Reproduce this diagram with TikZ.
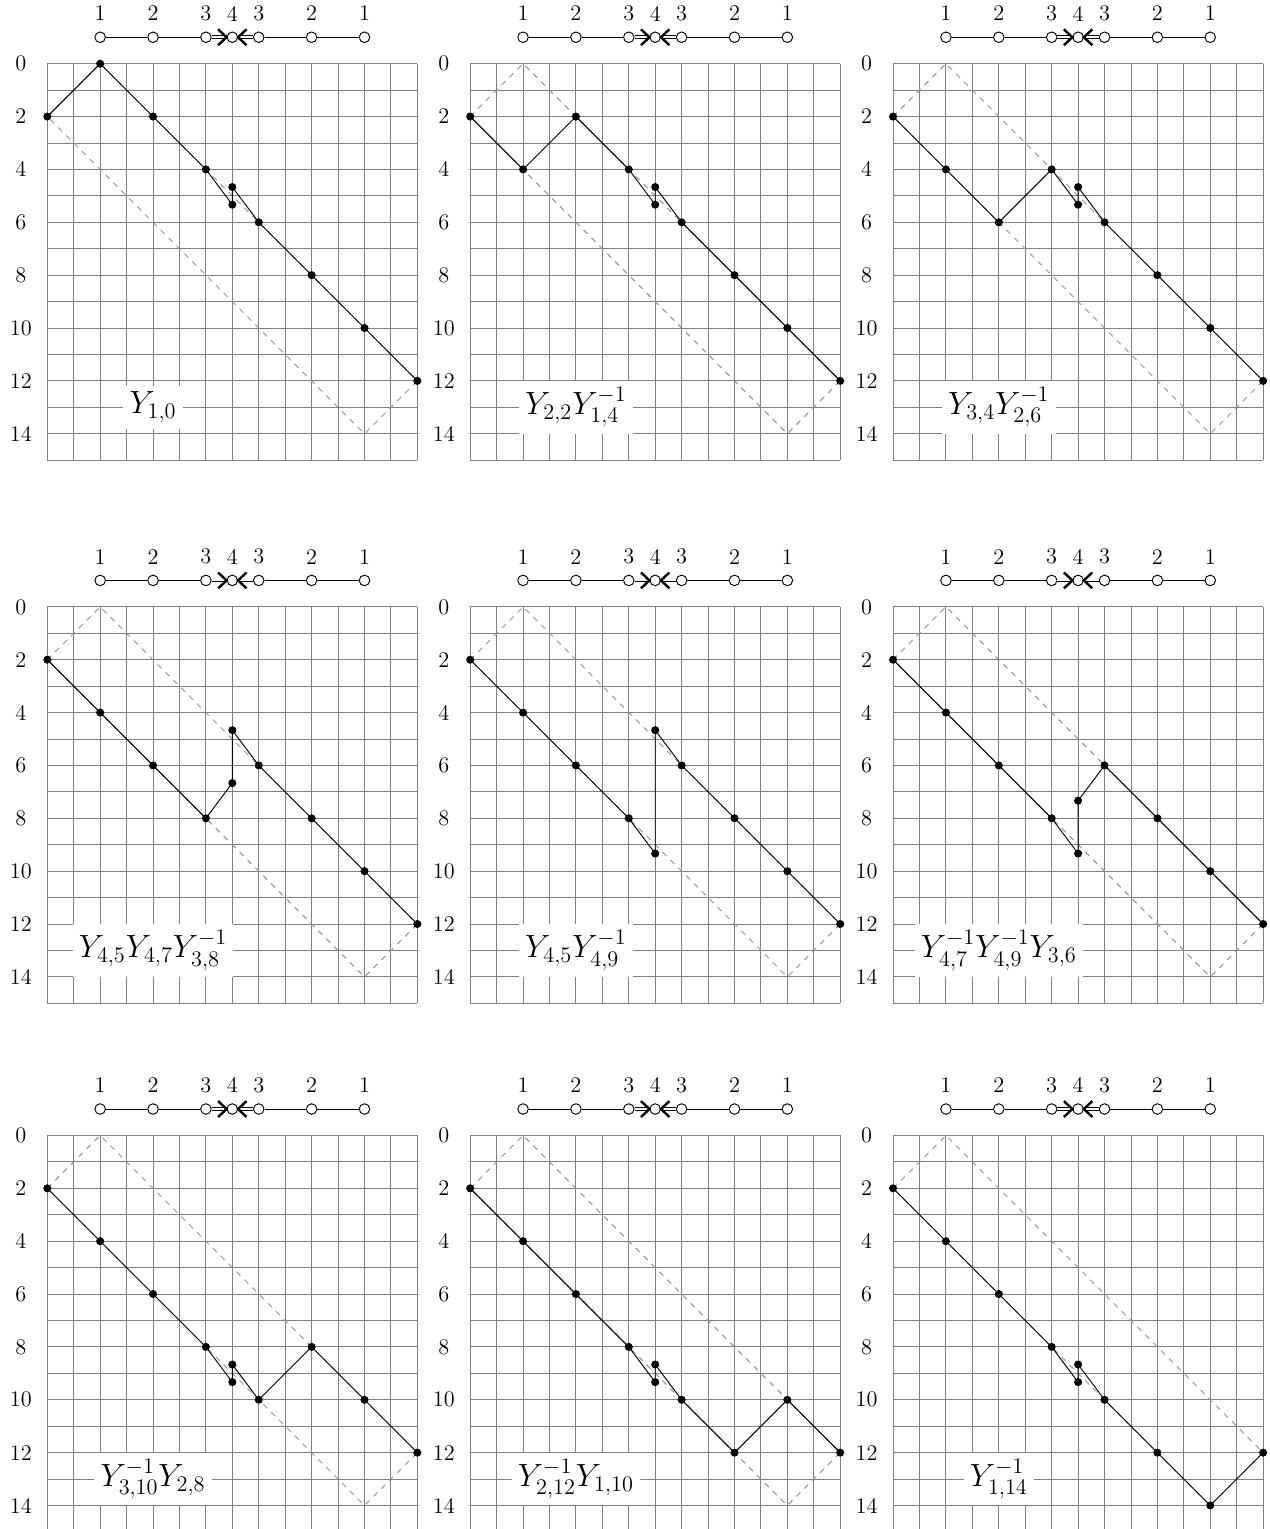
\documentclass[tikz,border=0pt]{standalone}
\usepackage{amsmath,amssymb}
\usetikzlibrary{arrows.meta,calc}

\tikzset{
  gridline/.style={gray, line width=0.5pt, step=0.5cm},
  ylab/.style    ={font=\large, inner sep=1pt},
  dnode/.style   ={draw, circle, fill=white, minimum size=2mm, inner sep=0pt, line width=0.5pt},
  dlab/.style    ={font=\large, inner sep=1pt},
  dbl/.style     ={double, double distance=1.1pt, line width=0.4pt},
  chev/.style    ={line width=1.3pt},
  rect/.style    ={dashed, gray!85, line width=0.5pt},
  ypath/.style   ={line width=0.5pt},
  ylabel/.style  ={fill=white, font=\LARGE}
}

% one panel: name, x shift, y shift, path, monomial
\newcommand{\ypanel}[5]{%
\begin{scope}[shift={(#2,#3)}, name prefix=#1-]
  \draw[gridline] (0,0) grid (14,15);
  \foreach \v in {0,2,...,14} \node[ylab] (r\v) at (-1,\v) {\v};
  \foreach \x/\lab [count=\i] in {2/1,4/2,6/3,7/4,8/3,10/2,12/1} {
    \node[dnode] (d\i) at (\x,-1) {};
    \node[dlab] (t\i) at (\x,-1.9) {\lab};
  }
  \draw[line width=0.5pt] (d1) -- (d2) -- (d3);
  \draw[line width=0.5pt] (d5) -- (d6) -- (d7);
  \draw[dbl] (d3) -- (d4); \draw[dbl] (d5) -- (d4);
  \draw[chev] ([shift={(-0.32,-0.3)}]d4.west) -- (d4.west) -- ([shift={(-0.32,0.3)}]d4.west);
  \draw[chev] ([shift={(0.32,-0.3)}]d4.east) -- (d4.east) -- ([shift={(0.32,0.3)}]d4.east);
  \draw[rect] (0,2) -- (2,0) -- (14,12) -- (12,14) -- cycle;
  \node[ylabel] (mono) at (4,13) {$#5$};
  \draw[ypath] plot[mark=*, mark size=1.9pt] coordinates {#4};
\end{scope}}

\begin{document}
\begin{tikzpicture}[x={(0.5cm,0)}, y={(0,-0.5cm)}]
\useasboundingbox (-1.79,-2.41) rectangle (46.26,55.44);
\ypanel{a}{0}{0}{(0,2) (2,0) (4,2) (6,4) (7,5.333) (7,4.667) (8,6) (10,8) (12,10) (14,12)}{Y_{1,0}}
\ypanel{b}{16}{0}{(0,2) (2,4) (4,2) (6,4) (7,5.333) (7,4.667) (8,6) (10,8) (12,10) (14,12)}{Y_{2,2}Y_{1,4}^{-1}}
\ypanel{c}{32}{0}{(0,2) (2,4) (4,6) (6,4) (7,5.333) (7,4.667) (8,6) (10,8) (12,10) (14,12)}{Y_{3,4}Y_{2,6}^{-1}}
\ypanel{d}{0}{20.55}{(0,2) (2,4) (4,6) (6,8) (7,6.667) (7,4.667) (8,6) (10,8) (12,10) (14,12)}{Y_{4,5}Y_{4,7}Y_{3,8}^{-1}}
\ypanel{e}{16}{20.55}{(0,2) (2,4) (4,6) (6,8) (7,9.333) (7,4.667) (8,6) (10,8) (12,10) (14,12)}{Y_{4,5}Y_{4,9}^{-1}}
\ypanel{f}{32}{20.55}{(0,2) (2,4) (4,6) (6,8) (7,9.333) (7,7.333) (8,6) (10,8) (12,10) (14,12)}{Y_{4,7}^{-1}Y_{4,9}^{-1}Y_{3,6}}
\ypanel{g}{0}{40.55}{(0,2) (2,4) (4,6) (6,8) (7,9.333) (7,8.667) (8,10) (10,8) (12,10) (14,12)}{Y_{3,10}^{-1}Y_{2,8}}
\ypanel{h}{16}{40.55}{(0,2) (2,4) (4,6) (6,8) (7,9.333) (7,8.667) (8,10) (10,12) (12,10) (14,12)}{Y_{2,12}^{-1}Y_{1,10}}
\ypanel{i}{32}{40.55}{(0,2) (2,4) (4,6) (6,8) (7,9.333) (7,8.667) (8,10) (10,12) (12,14) (14,12)}{Y_{1,14}^{-1}}
\end{tikzpicture}
\end{document}
